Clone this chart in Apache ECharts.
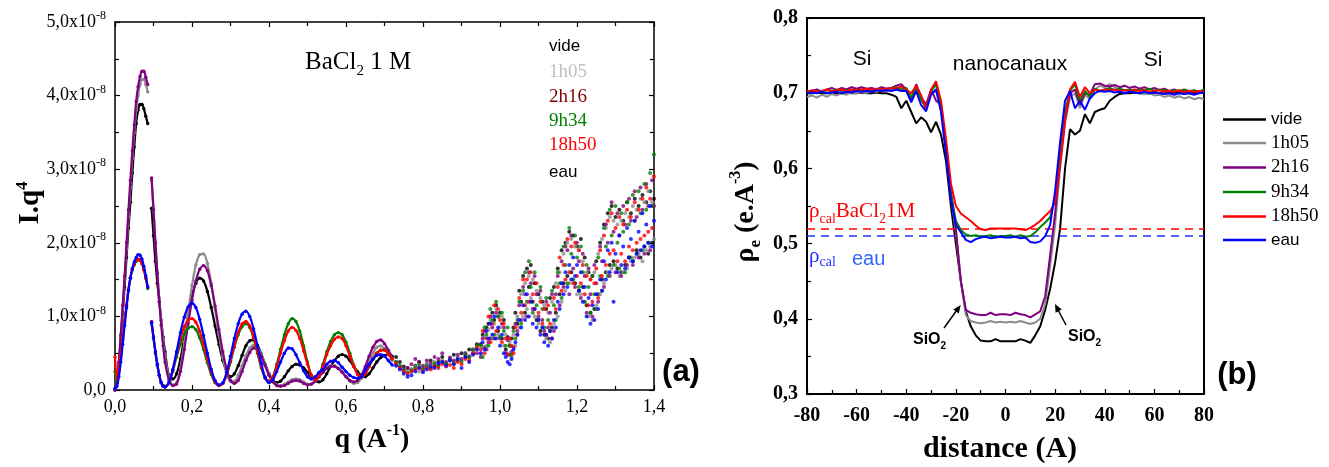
<!DOCTYPE html>
<html><head><meta charset="utf-8">
<script src="https://cdn.jsdelivr.net/npm/echarts@6/dist/echarts.min.js"></script>
<style>html,body{margin:0;padding:0;background:#fff}#c{width:1329px;height:467px}</style>
</head><body><div id="c"></div>
<script>
// ---------- panel (a): I.q^4 (units of 1e-8) vs q ----------
const seriesNames = ['vide', '1h05', '2h16', '9h34', '18h50', 'eau'];
const seriesColors = ['#000000', '#8c8c8c', '#800080', '#008000', '#ff0000', '#0000ff'];

const qSmooth = [0,0.005,0.01,0.015,0.02,0.025,0.03,0.035,0.04,0.045,0.05,0.055,0.06,0.065,0.07,0.075,0.08,0.085,0.09,0.095,0.1,0.105,0.11,0.115,0.12,0.125,0.13,
  0.14,0.15,0.16,0.17,0.18,0.19,0.20,0.21,0.22,0.23,0.24,0.25,0.26,0.27,0.28,0.29,0.30,0.31,0.32,0.33,0.34,0.35,0.36,0.37,0.38,0.39,0.40,0.41,0.42,0.43,0.44,0.45,0.46,0.47,0.48,0.49,0.50,0.51,0.52,0.53,0.54,0.55,0.56,0.57,0.58,0.59,0.60,0.61,0.62,0.63,0.64,0.65,0.66,0.67,0.68,0.69,0.70,0.71,0.72];

const iqVideSmooth = [0.0,0.1,0.35,0.7,1.05,1.4,1.8,2.2,2.55,2.95,3.3,3.62,3.8,3.88,3.88,3.82,3.72,3.62,null,2.47,2.1,1.75,1.45,1.2,0.95,0.72,0.52,
  0.2,0.15,0.22,0.42,0.72,1.02,1.28,1.45,1.52,1.48,1.34,1.12,0.87,0.62,0.4,0.25,0.18,0.22,0.33,0.47,0.6,0.67,0.68,0.61,0.49,0.35,0.22,0.13,0.1,0.12,0.18,0.26,0.32,0.35,0.34,0.3,0.24,0.17,0.13,0.11,0.14,0.22,0.32,0.4,0.46,0.48,0.46,0.4,0.32,0.25,0.2,0.18,0.22,0.3,0.38,0.44,0.47,0.48,0.46];
const iq1h05Smooth = [0.0,0.1,0.35,0.72,1.1,1.5,1.92,2.35,2.75,3.15,3.5,3.8,4.0,4.15,4.22,4.22,4.15,4.05,null,2.85,2.45,2.0,1.6,1.25,0.95,0.68,0.45,
  0.18,0.07,0.1,0.3,0.65,1.05,1.42,1.7,1.84,1.85,1.72,1.45,1.1,0.75,0.45,0.22,0.12,0.12,0.2,0.33,0.47,0.57,0.61,0.58,0.48,0.35,0.22,0.12,0.07,0.06,0.08,0.11,0.14,0.15,0.14,0.11,0.08,0.08,0.12,0.18,0.24,0.3,0.33,0.33,0.3,0.25,0.18,0.12,0.09,0.1,0.16,0.26,0.38,0.5,0.58,0.6,0.56,0.48,0.4];
const iq2h16Smooth = [0.0,0.1,0.38,0.75,1.15,1.55,2.0,2.45,2.85,3.25,3.6,3.92,4.12,4.26,4.33,4.33,4.25,4.15,null,2.88,2.45,2.0,1.58,1.2,0.88,0.6,0.38,
  0.14,0.06,0.08,0.25,0.55,0.9,1.22,1.48,1.64,1.69,1.62,1.42,1.14,0.82,0.52,0.28,0.13,0.09,0.13,0.25,0.4,0.51,0.57,0.55,0.46,0.33,0.2,0.11,0.06,0.05,0.06,0.09,0.12,0.13,0.12,0.09,0.07,0.08,0.12,0.18,0.24,0.29,0.32,0.32,0.29,0.24,0.18,0.13,0.11,0.13,0.2,0.32,0.46,0.58,0.66,0.68,0.63,0.54,0.45];
const iq9h34Smooth = [0.25,0.12,0.25,0.45,0.68,0.92,1.15,1.36,1.52,1.63,1.7,1.75,1.77,1.76,1.72,1.63,1.52,1.38,null,0.9,0.7,0.5,0.33,0.2,0.1,0.06,0.05,
  0.1,0.25,0.45,0.62,0.76,0.84,0.86,0.82,0.71,0.55,0.37,0.21,0.1,0.06,0.09,0.2,0.38,0.58,0.75,0.86,0.9,0.85,0.7,0.5,0.3,0.16,0.12,0.18,0.35,0.55,0.75,0.9,0.97,0.93,0.8,0.6,0.38,0.2,0.14,0.2,0.35,0.52,0.66,0.75,0.78,0.75,0.65,0.5,0.34,0.22,0.18,0.22,0.32,0.42,0.5,0.54,0.55,0.5,0.43];
const iq18h50Smooth = [0.45,0.15,0.28,0.48,0.7,0.94,1.16,1.37,1.53,1.64,1.71,1.76,1.78,1.77,1.72,1.63,1.52,1.4,null,0.93,0.72,0.52,0.34,0.2,0.1,0.05,0.04,
  0.1,0.27,0.5,0.7,0.86,0.95,0.97,0.92,0.8,0.62,0.42,0.24,0.11,0.06,0.09,0.21,0.4,0.6,0.78,0.9,0.93,0.87,0.72,0.52,0.32,0.17,0.12,0.17,0.32,0.5,0.67,0.8,0.85,0.81,0.7,0.53,0.35,0.2,0.14,0.19,0.32,0.48,0.6,0.69,0.72,0.7,0.6,0.46,0.32,0.21,0.18,0.22,0.32,0.42,0.5,0.54,0.54,0.49,0.42];
const iqEauSmooth = [0.02,0.05,0.18,0.38,0.62,0.88,1.12,1.35,1.52,1.65,1.74,1.8,1.84,1.83,1.78,1.68,1.55,1.4,null,0.92,0.72,0.52,0.35,0.2,0.1,0.05,0.04,
  0.1,0.28,0.52,0.78,0.99,1.13,1.18,1.12,0.96,0.74,0.5,0.28,0.13,0.07,0.1,0.24,0.46,0.7,0.9,1.03,1.07,1.0,0.83,0.6,0.36,0.17,0.1,0.14,0.25,0.38,0.5,0.57,0.56,0.48,0.37,0.26,0.18,0.15,0.18,0.24,0.28,0.35,0.39,0.4,0.37,0.31,0.25,0.2,0.17,0.16,0.18,0.27,0.35,0.42,0.47,0.48,0.46,0.4,0.34];

const qNoisy = [0.73,0.74,0.75,0.76,0.77,0.78,0.79,0.80,0.81,0.82,0.83,0.84,0.85,0.86,0.87,0.88,0.89,0.90,0.91,0.92,0.93,0.94,
  0.95,0.955,0.96,0.965,0.97,0.975,0.98,0.985,0.99,0.995,1.0,1.005,1.01,1.015,1.02,1.025,1.03,1.035,1.04,1.045,1.05,1.055,1.06,1.065,1.07,1.075,1.08,1.085,1.09,1.095,1.1,1.105,1.11,1.115,1.12,1.125,1.13,1.135,1.14,1.145,1.15,1.155,1.16,1.165,1.17,1.175,1.18,1.185,1.19,1.195,1.2,1.205,1.21,1.215,1.22,1.225,1.23,1.235,1.24,1.245,1.25,1.255,1.26,1.265,1.27,1.275,1.28,1.285,1.29,1.295,1.3,1.305,1.31,1.315,1.32,1.325,1.33,1.335,1.34,1.345,1.35,1.355,1.36,1.365,1.37,1.375,1.38,1.385,1.39,1.395,1.4];

const iqVideNoisy = [0.45,0.38,0.32,0.3,0.28,0.33,0.38,0.3,0.35,0.4,0.33,0.38,0.45,0.36,0.42,0.48,0.4,0.5,0.45,0.55,0.5,0.62,
  0.62,0.75,0.58,0.85,0.9,0.7,1.05,0.95,1.15,0.8,1.05,0.7,0.95,0.55,0.72,0.48,0.7,0.85,1.05,0.9,1.35,1.2,1.55,1.05,1.65,1.4,1.7,1.2,1.45,0.95,1.3,0.8,1.2,0.75,1.1,0.7,1.25,0.85,1.4,1.05,1.65,1.3,1.9,1.45,2.0,1.55,2.15,1.6,2.1,1.45,1.95,1.35,2.05,1.4,1.8,1.15,1.6,1.05,1.55,1.1,1.75,1.3,2.0,1.5,2.25,1.6,2.4,1.7,2.5,1.75,2.35,1.65,2.45,1.6,2.3,1.7,2.55,1.8,2.4,1.75,2.6,1.9,2.5,1.8,2.65,1.95,2.55,1.85,2.7,2.0,2.6];
const iq1h05Noisy = [0.34,0.3,0.25,0.22,0.28,0.32,0.25,0.3,0.36,0.3,0.38,0.32,0.4,0.35,0.42,0.38,0.45,0.4,0.5,0.45,0.52,0.55,
  0.5,0.58,0.72,0.6,0.82,0.95,0.7,0.9,1.1,0.75,0.85,1.0,0.6,0.75,0.5,0.65,0.45,0.75,0.6,1.0,0.85,1.3,1.0,1.45,1.1,1.55,1.25,1.5,1.0,1.35,0.9,1.25,0.85,1.15,0.7,1.05,0.65,1.2,0.9,1.45,1.0,1.6,1.2,1.85,1.35,2.0,1.45,2.05,1.5,1.95,1.3,1.9,1.3,1.75,1.2,1.6,1.0,1.5,0.95,1.6,1.15,1.85,1.3,2.05,1.45,2.2,1.6,2.35,1.65,2.3,1.7,2.25,1.55,2.3,1.6,2.4,1.65,2.35,1.75,2.5,1.8,2.45,1.85,2.6,1.75,2.55,1.9,2.7,1.95,2.55,2.05];
const iq2h16Noisy = [0.38,0.32,0.28,0.3,0.35,0.42,0.38,0.33,0.4,0.36,0.45,0.42,0.5,0.38,0.44,0.4,0.48,0.42,0.5,0.46,0.55,0.5,
  0.45,0.7,0.8,0.55,0.65,1.0,0.85,0.7,1.05,1.0,0.7,0.9,0.85,0.5,0.68,0.6,0.52,0.58,0.9,0.8,1.15,0.95,1.4,1.3,1.0,1.6,1.45,1.1,1.55,1.3,1.0,1.35,0.95,0.8,1.2,0.85,1.05,1.3,0.8,1.3,1.55,1.15,1.75,1.4,1.95,1.9,1.3,2.1,1.65,1.4,2.0,1.75,1.25,1.85,1.55,1.05,1.65,1.3,1.0,1.7,1.45,1.2,1.95,1.75,1.4,2.25,2.0,1.55,2.55,2.15,1.6,2.4,2.1,1.55,2.5,2.25,1.7,2.6,2.3,1.7,2.7,2.35,1.8,2.75,2.45,1.85,2.8,2.5,1.9,2.85,2.5];
const iq9h34Noisy = [0.38,0.33,0.27,0.24,0.26,0.3,0.34,0.28,0.32,0.3,0.36,0.33,0.38,0.35,0.4,0.36,0.42,0.38,0.48,0.44,0.55,0.6,
  0.6,0.45,0.85,0.75,0.6,1.1,0.95,0.75,1.2,1.0,0.72,1.05,0.8,0.6,0.85,0.6,0.48,0.8,0.7,0.95,1.2,0.9,1.35,1.6,1.2,1.75,1.4,1.05,1.6,1.15,0.95,1.4,1.1,0.85,1.25,0.95,0.8,1.35,1.15,0.95,1.6,1.45,1.25,1.95,1.7,1.45,2.2,1.85,1.5,2.1,1.8,1.4,1.95,1.6,1.2,1.7,1.4,1.05,1.55,1.3,1.1,1.8,1.55,1.35,2.2,1.95,1.55,2.45,2.1,1.7,2.5,2.0,1.65,2.4,2.15,1.6,2.55,2.25,1.8,2.65,2.3,1.85,2.7,2.4,1.9,2.8,2.45,2.0,2.95,2.5,3.2];
const iq18h50Noisy = [0.36,0.3,0.25,0.22,0.25,0.28,0.3,0.26,0.3,0.28,0.32,0.3,0.35,0.32,0.34,0.3,0.38,0.35,0.42,0.4,0.5,0.58,
  0.55,0.8,0.5,0.7,1.0,0.65,0.9,1.15,0.8,1.1,0.95,0.65,0.9,0.7,0.48,0.7,0.6,0.5,0.85,0.75,1.25,1.05,1.5,1.15,1.5,1.2,1.6,1.3,1.1,1.45,1.05,1.2,0.9,1.1,0.75,1.15,0.9,0.7,1.25,1.1,1.4,1.8,1.35,1.7,1.5,2.05,1.6,1.95,1.45,2.0,1.55,1.9,1.45,1.7,1.3,1.55,1.15,1.5,1.2,1.45,1.65,1.25,1.9,1.55,2.1,1.7,2.3,1.85,2.4,1.9,2.2,1.75,2.35,1.85,2.25,1.75,2.45,1.95,2.35,1.9,2.55,2.0,2.45,2.05,2.6,2.1,2.75,2.15,2.6,2.2,2.9];
const iqEauNoisy = [0.33,0.28,0.22,0.18,0.2,0.25,0.3,0.24,0.28,0.32,0.3,0.36,0.38,0.33,0.4,0.35,0.42,0.3,0.45,0.38,0.48,0.55,
  0.5,0.65,0.55,0.8,0.7,0.9,0.75,1.0,0.7,0.85,0.6,0.75,0.5,0.45,0.38,0.35,0.42,0.55,0.65,0.75,0.95,0.85,1.15,0.95,1.3,1.0,1.2,0.9,1.1,0.85,0.95,0.75,0.85,0.65,0.75,0.6,0.8,0.7,0.95,0.85,1.2,1.1,1.45,1.3,1.6,1.4,1.7,1.5,1.8,1.55,1.7,1.35,1.6,1.2,1.4,1.0,1.25,0.9,1.15,0.95,1.3,1.1,1.5,1.35,1.75,1.5,1.9,1.6,2.0,1.2,1.85,1.6,2.1,1.7,1.95,1.65,2.2,1.8,2.05,1.75,2.3,1.85,2.15,1.9,2.4,1.95,2.25,2.0,2.5,1.95,2.3];

// ---------- panel (b): electron density vs distance ----------
const distance = [-80,-78,-76,-74,-72,-70,-68,-66,-64,-62,-60,-58,-56,-54,-52,-50,-48,-46,-44,-42,-40,-38,-36,-34,-32,-30,-28,-26,-24,-22,-20,-18,-16,-14,-12,-10,-8,-6,-4,-2,0,2,4,6,8,10,12,14,16,18,20,22,24,26,28,30,32,34,36,38,40,42,44,46,48,50,52,54,56,58,60,62,64,66,68,70,72,74,76,78,80];

const rhoVide = [0.700,0.700,0.701,0.700,0.700,0.701,0.700,0.700,0.701,0.700,0.700,0.701,0.700,0.700,0.701,0.700,0.700,
  0.698,0.695,0.680,0.690,0.675,0.660,0.668,0.662,0.648,0.662,0.645,0.610,0.550,0.500,0.450,0.410,0.390,0.378,0.371,0.370,0.370,0.373,0.370,0.370,0.370,0.370,0.373,0.371,0.368,0.378,0.390,0.412,0.440,0.475,0.520,0.600,0.652,0.645,0.650,0.672,0.660,0.675,0.678,0.680,0.690,0.695,0.699,
  0.700,0.700,0.701,0.700,0.700,0.700,0.701,0.700,0.700,0.700,0.701,0.700,0.700,0.700,0.700,0.701,0.700];
const rho1h05 = [0.695,0.697,0.694,0.698,0.695,0.699,0.697,0.700,0.698,0.701,0.700,0.702,0.700,0.703,0.702,0.704,0.703,0.705,0.706,0.703,0.707,0.693,0.705,0.690,0.682,0.700,0.703,0.685,0.625,0.565,0.515,0.450,0.405,0.397,0.395,0.394,0.395,0.397,0.395,0.396,0.395,0.396,0.395,0.397,0.395,0.393,0.395,0.400,0.420,0.470,0.525,0.600,0.660,0.695,0.700,0.680,0.698,0.692,0.705,0.710,0.708,0.712,0.708,0.705,0.704,0.703,0.702,0.700,0.699,0.700,0.697,0.698,0.695,0.697,0.694,0.696,0.693,0.695,0.692,0.694,0.692];
const rho2h16 = [0.700,0.703,0.705,0.702,0.705,0.707,0.704,0.707,0.705,0.708,0.706,0.708,0.706,0.707,0.705,0.708,0.706,0.707,0.710,0.712,0.705,0.690,0.712,0.695,0.685,0.705,0.690,0.685,0.630,0.570,0.520,0.450,0.412,0.408,0.406,0.405,0.405,0.408,0.405,0.406,0.406,0.405,0.408,0.406,0.405,0.402,0.406,0.410,0.430,0.485,0.540,0.610,0.665,0.700,0.705,0.685,0.700,0.698,0.712,0.713,0.710,0.709,0.711,0.708,0.710,0.707,0.709,0.706,0.708,0.705,0.707,0.704,0.706,0.703,0.705,0.702,0.704,0.700,0.703,0.701,0.703];
const rho9h34 = [0.703,0.701,0.703,0.702,0.704,0.703,0.705,0.703,0.704,0.703,0.705,0.704,0.705,0.703,0.705,0.706,0.705,0.707,0.708,0.705,0.707,0.695,0.708,0.692,0.680,0.702,0.712,0.680,0.625,0.565,0.530,0.518,0.512,0.510,0.511,0.509,0.510,0.511,0.509,0.510,0.510,0.511,0.509,0.511,0.509,0.510,0.515,0.522,0.528,0.535,0.560,0.615,0.675,0.703,0.712,0.690,0.703,0.695,0.706,0.703,0.705,0.707,0.704,0.706,0.704,0.705,0.703,0.705,0.704,0.706,0.703,0.705,0.704,0.702,0.704,0.703,0.705,0.703,0.704,0.702,0.705];
const rho18h50 = [0.702,0.704,0.702,0.703,0.705,0.703,0.704,0.705,0.703,0.705,0.704,0.705,0.706,0.704,0.706,0.705,0.706,0.707,0.706,0.709,0.704,0.700,0.710,0.697,0.678,0.705,0.716,0.690,0.640,0.580,0.550,0.540,0.535,0.530,0.524,0.519,0.518,0.520,0.520,0.520,0.520,0.520,0.520,0.519,0.518,0.521,0.525,0.530,0.537,0.543,0.555,0.605,0.665,0.705,0.715,0.695,0.708,0.700,0.705,0.703,0.705,0.704,0.705,0.703,0.704,0.703,0.705,0.703,0.704,0.702,0.703,0.704,0.702,0.703,0.702,0.704,0.702,0.703,0.702,0.703,0.702];
const rhoEau = [0.700,0.701,0.700,0.702,0.700,0.701,0.702,0.700,0.702,0.701,0.703,0.702,0.703,0.702,0.704,0.703,0.704,0.703,0.705,0.703,0.703,0.688,0.703,0.684,0.676,0.698,0.705,0.675,0.620,0.560,0.525,0.515,0.505,0.502,0.506,0.508,0.509,0.507,0.508,0.509,0.508,0.508,0.509,0.507,0.508,0.502,0.501,0.503,0.510,0.525,0.570,0.635,0.690,0.703,0.680,0.690,0.678,0.693,0.700,0.703,0.702,0.703,0.701,0.702,0.700,0.702,0.701,0.700,0.702,0.700,0.701,0.700,0.699,0.700,0.698,0.700,0.699,0.700,0.698,0.700,0.701];

const rhoCalBaCl2 = 0.52;
const rhoCalEau = 0.505;

// ---------- build ----------
const SERIF = 'Liberation Serif', SANS = 'Liberation Sans';
const zip = (xs, ys) => xs.map((x, i) => [x, ys[i] === null ? '-' : ys[i]]);
const smoothSets = [iqVideSmooth, iq1h05Smooth, iq2h16Smooth, iq9h34Smooth, iq18h50Smooth, iqEauSmooth];
const noisySets = [iqVideNoisy, iq1h05Noisy, iq2h16Noisy, iq9h34Noisy, iq18h50Noisy, iqEauNoisy];
const rhoSets = [rhoVide, rho1h05, rho2h16, rho9h34, rho18h50, rhoEau];

const comma = v => v.toFixed(1).replace('.', ',');

function axisCommon(extra) {
  return Object.assign({
    type: 'value',
    axisLine: { show: true, onZero: false, lineStyle: { color: '#000', width: 1.5 } },
    axisTick: { show: true, inside: true, length: 5, lineStyle: { color: '#000', width: 1.2 } },
    minorTick: { show: true, splitNumber: 2, length: 4, lineStyle: { color: '#000', width: 1.2 } },
    splitLine: { show: false },
    minorSplitLine: { show: false }
  }, extra);
}

const xAxes = [
  axisCommon({ gridIndex: 0, position: 'bottom', min: 0, max: 1.4, interval: 0.2,
    axisLabel: { formatter: comma, fontFamily: SERIF, fontSize: 18, color: '#000', margin: 8 } }),
  axisCommon({ gridIndex: 0, position: 'top', min: 0, max: 1.4, interval: 0.2, axisLabel: { show: false } }),
  axisCommon({ gridIndex: 1, position: 'bottom', min: -80, max: 80, interval: 20,
    axisLine: { show: true, onZero: false, lineStyle: { color: '#000', width: 2 } },
    axisLabel: { fontFamily: SERIF, fontWeight: 'bold', fontSize: 20, color: '#000', margin: 12 } }),
  axisCommon({ gridIndex: 1, position: 'top', min: -80, max: 80, interval: 20,
    axisLine: { show: true, onZero: false, lineStyle: { color: '#000', width: 2 } },
    axisTick: { show: false }, minorTick: { show: false }, axisLabel: { show: false } })
];
const yAxes = [
  axisCommon({ gridIndex: 0, position: 'left', min: 0, max: 5, interval: 1,
    axisLabel: { margin: 9, formatter: v => v === 0 ? '{n|0,0}' : '{n|' + comma(v) + 'x10}{s|-8}',
      rich: { n: { fontFamily: SERIF, fontSize: 18, color: '#000', lineHeight: 24 },
              s: { fontFamily: SERIF, fontSize: 12, color: '#000', lineHeight: 12, verticalAlign: 'top' } } } }),
  axisCommon({ gridIndex: 0, position: 'right', min: 0, max: 5, interval: 1, axisLabel: { show: false } }),
  axisCommon({ gridIndex: 1, position: 'left', min: 0.3, max: 0.8, interval: 0.1,
    axisLine: { show: true, onZero: false, lineStyle: { color: '#000', width: 2 } },
    axisLabel: { formatter: comma, fontFamily: SERIF, fontWeight: 'bold', fontSize: 20, color: '#000', margin: 9 } }),
  axisCommon({ gridIndex: 1, position: 'right', min: 0.3, max: 0.8, interval: 0.1,
    axisLine: { show: true, onZero: false, lineStyle: { color: '#000', width: 2 } },
    axisTick: { show: false }, minorTick: { show: false }, axisLabel: { show: false } })
];

const series = [];
seriesNames.forEach((nm, k) => {
  series.push({
    type: 'line', name: nm + ' (a)', xAxisIndex: 0, yAxisIndex: 0,
    data: zip(qSmooth, smoothSets[k]), smooth: 0.3, connectNulls: false,
    symbol: 'circle', symbolSize: 3.4, showAllSymbol: true,
    lineStyle: { color: seriesColors[k], width: 2.2 }, itemStyle: { color: seriesColors[k] },
    z: 2 + k
  });
  series.push({
    type: 'scatter', name: nm + ' (a)', xAxisIndex: 0, yAxisIndex: 0,
    data: zip(qNoisy, noisySets[k]), symbolSize: 4,
    itemStyle: { color: seriesColors[k] }, z: 2 + k
  });
});
seriesNames.forEach((nm, k) => {
  const s = {
    type: 'line', name: nm, xAxisIndex: 2, yAxisIndex: 2,
    data: zip(distance, rhoSets[k]), symbol: 'none',
    lineStyle: { color: seriesColors[k], width: 2 }, itemStyle: { color: seriesColors[k] },
    z: 3 + k
  };
  if (k === 0) {
    s.markLine = {
      silent: true, symbol: 'none', label: { show: false },
      data: [
        { yAxis: rhoCalBaCl2, lineStyle: { color: '#ff0000', width: 1.6, type: [8, 6] } },
        { yAxis: rhoCalEau, lineStyle: { color: '#2233ff', width: 1.6, type: [8, 6] } }
      ]
    };
  }
  series.push(s);
});

const legendFonts = [SANS, SERIF, SERIF, SERIF, SERIF, SANS];
const legendSizes = [17, 19, 19, 19, 19, 17];

const txt = (x, y, text, style, extra) => Object.assign({ type: 'text', x, y, silent: true,
  style: Object.assign({ text, fill: '#000', align: 'left', verticalAlign: 'middle' }, style) }, extra || {});

const leftLegendY = [46, 72, 97, 121, 145, 172];
const leftLegendColors = ['#000000', '#c0c0c0', '#800000', '#008000', '#ff0000', '#000000'];

const graphics = [];
seriesNames.forEach((nm, k) => {
  graphics.push(txt(549, leftLegendY[k], nm, { font: (legendFonts[k] === SANS ? '17px ' : '19px ') + '"' + legendFonts[k] + '"', fill: leftLegendColors[k] }));
});
graphics.push(
  txt(305, 62, '{t|BaCl}{s|2}{t| 1 M}', { rich: {
    t: { fontFamily: SERIF, fontSize: 25, lineHeight: 34, fill: '#000' },
    s: { fontFamily: SERIF, fontSize: 15, lineHeight: 14, verticalAlign: 'bottom', fill: '#000' } } }),
  txt(31, 203, '{m|I.q}{p|4}', { align: 'center', rich: {
    m: { fontFamily: SERIF, fontWeight: 'bold', fontSize: 29, lineHeight: 34, fill: '#000' },
    p: { fontFamily: SERIF, fontWeight: 'bold', fontSize: 17, lineHeight: 16, verticalAlign: 'top', fill: '#000' } } },
    { rotation: Math.PI / 2 }),
  txt(372, 440, '{m|q (A}{p|-1}{m|)}', { align: 'center', rich: {
    m: { fontFamily: SERIF, fontWeight: 'bold', fontSize: 28, lineHeight: 34, fill: '#000' },
    p: { fontFamily: SERIF, fontWeight: 'bold', fontSize: 16, lineHeight: 16, verticalAlign: 'top', fill: '#000' } } }),
  txt(681, 372, '(a)', { align: 'center', font: 'bold 31px "Liberation Sans"' }),
  txt(1237, 375, '(b)', { align: 'center', font: 'bold 31px "Liberation Sans"' }),
  txt(746, 212, '{m|ρ}{s|e}{m| (e.A}{p|-3}{m|)}', { align: 'center', rich: {
    m: { fontFamily: SERIF, fontWeight: 'bold', fontSize: 28, lineHeight: 36, fill: '#000' },
    s: { fontFamily: SERIF, fontWeight: 'bold', fontSize: 17, lineHeight: 14, verticalAlign: 'bottom', fill: '#000' },
    p: { fontFamily: SERIF, fontWeight: 'bold', fontSize: 16, lineHeight: 16, verticalAlign: 'top', fill: '#000' } } },
    { rotation: Math.PI / 2 }),
  txt(1000, 449, 'distance (A)', { align: 'center', font: 'bold 30px "Liberation Serif"' }),
  txt(862, 59, 'Si', { align: 'center', font: '21px "Liberation Sans"' }),
  txt(1010, 64, 'nanocanaux', { align: 'center', font: '21px "Liberation Sans"' }),
  txt(1153, 60, 'Si', { align: 'center', font: '21px "Liberation Sans"' }),
  txt(809, 211, '{a|ρ}{b|cal}{a|BaCl}{b|2}{a|1M}', { rich: {
    a: { fontFamily: SERIF, fontSize: 21, lineHeight: 30, fill: '#ff0000' },
    b: { fontFamily: SERIF, fontSize: 14, lineHeight: 14, verticalAlign: 'bottom', fill: '#ff0000' } } }),
  txt(809, 256, '{a|ρ}{b|cal}', { rich: {
    a: { fontFamily: SERIF, fontSize: 21, lineHeight: 26, fill: '#2233ff' },
    b: { fontFamily: SERIF, fontSize: 14, lineHeight: 14, verticalAlign: 'bottom', fill: '#2233ff' } } }),
  txt(852, 259, 'eau', { font: '20px "Liberation Sans"', fill: '#3366ff' }),
  txt(913, 340, '{a|SiO}{b|2}', { rich: {
    a: { fontFamily: SANS, fontWeight: 'bold', fontSize: 16, lineHeight: 22, fill: '#000' },
    b: { fontFamily: SANS, fontWeight: 'bold', fontSize: 10, lineHeight: 10, verticalAlign: 'bottom', fill: '#000' } } }),
  txt(1068, 337, '{a|SiO}{b|2}', { rich: {
    a: { fontFamily: SANS, fontWeight: 'bold', fontSize: 16, lineHeight: 22, fill: '#000' },
    b: { fontFamily: SANS, fontWeight: 'bold', fontSize: 10, lineHeight: 10, verticalAlign: 'bottom', fill: '#000' } } }),
  { type: 'line', silent: true, shape: { x1: 944, y1: 328, x2: 957, y2: 310 }, style: { stroke: '#000', lineWidth: 1.5 } },
  { type: 'polygon', silent: true, shape: { points: [[960.7, 305], [958.8, 313.6], [953.2, 309.4]] }, style: { fill: '#000' } },
  { type: 'line', silent: true, shape: { x1: 1066, y1: 325, x2: 1057.5, y2: 309 }, style: { stroke: '#000', lineWidth: 1.5 } },
  { type: 'polygon', silent: true, shape: { points: [[1055, 304], [1061.8, 309.5], [1055.6, 312.7]] }, style: { fill: '#000' } }
);

const option = {
  animation: false,
  backgroundColor: '#fff',
  grid: [
    { left: 115, top: 22, width: 539, height: 368 },
    { left: 807, top: 18, width: 397, height: 376 }
  ],
  xAxis: xAxes,
  yAxis: yAxes,
  legend: {
    orient: 'vertical', left: 1218, top: 106, itemWidth: 43, itemHeight: 2.5, itemGap: 5.5,
    icon: 'rect',
    textStyle: { color: '#000' },
    data: seriesNames.map((nm, k) => ({ name: nm, textStyle: { fontFamily: legendFonts[k], fontSize: legendSizes[k] } }))
  },
  series,
  graphic: graphics
};
const chart = echarts.init(document.getElementById('c'));
chart.setOption(option);
</script>
</body></html>
